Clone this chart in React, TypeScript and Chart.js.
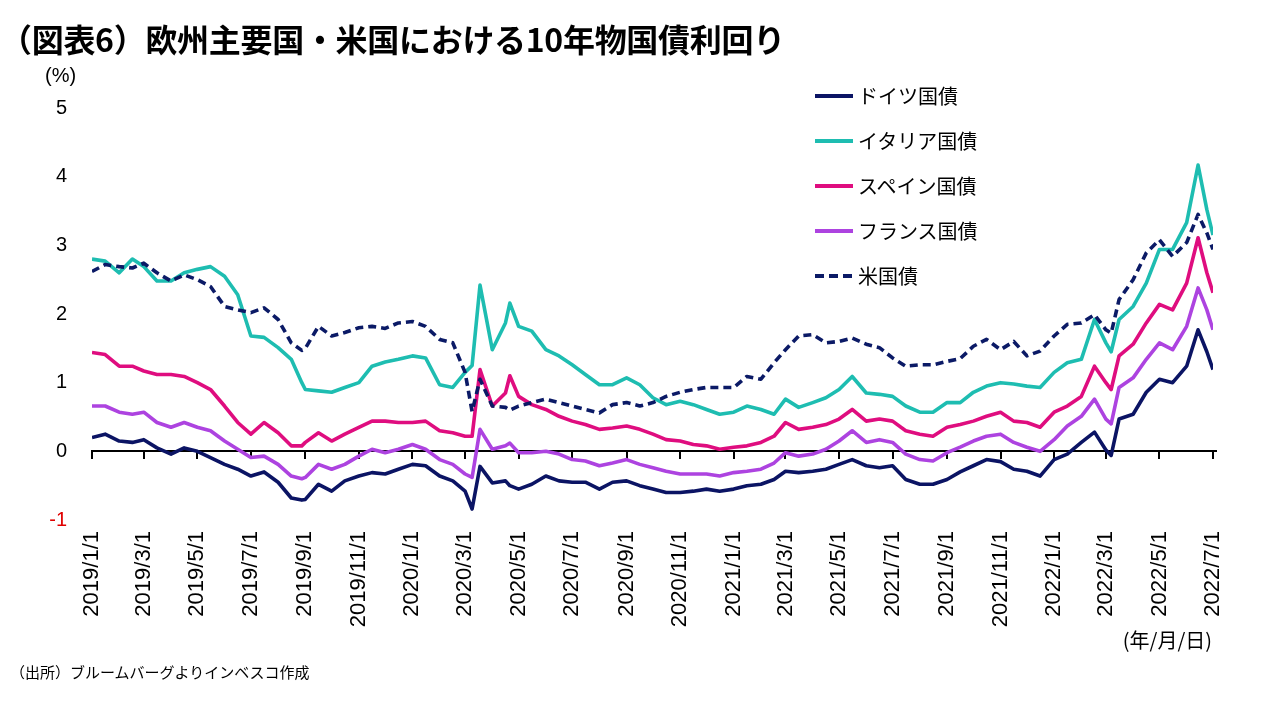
import React, { useEffect, useRef } from 'react';
import { Chart, registerables } from 'chart.js';

Chart.register(...registerables);

// ---- data ----
const dates = [
  '2019-01-01', '2019-01-16', '2019-02-01', '2019-02-16', '2019-03-01', '2019-03-16',
  '2019-04-01', '2019-04-16', '2019-05-01', '2019-05-16', '2019-06-01', '2019-06-16',
  '2019-07-01', '2019-07-16', '2019-08-01', '2019-08-16', '2019-08-28', '2019-09-01',
  '2019-09-16', '2019-10-01', '2019-10-16', '2019-11-01', '2019-11-16', '2019-12-01',
  '2019-12-16', '2020-01-01', '2020-01-16', '2020-02-01', '2020-02-16', '2020-03-01',
  '2020-03-09', '2020-03-18', '2020-04-01', '2020-04-16', '2020-04-21', '2020-05-01',
  '2020-05-16', '2020-06-01', '2020-06-16', '2020-07-01', '2020-07-16', '2020-08-01',
  '2020-08-16', '2020-09-01', '2020-09-16', '2020-10-01', '2020-10-16', '2020-11-01',
  '2020-11-16', '2020-12-01', '2020-12-16', '2021-01-01', '2021-01-16', '2021-02-01',
  '2021-02-16', '2021-03-01', '2021-03-16', '2021-04-01', '2021-04-16', '2021-05-01',
  '2021-05-16', '2021-06-01', '2021-06-16', '2021-07-01', '2021-07-16', '2021-08-01',
  '2021-08-16', '2021-09-01', '2021-09-16', '2021-10-01', '2021-10-16', '2021-11-01',
  '2021-11-16', '2021-12-01', '2021-12-16', '2022-01-01', '2022-01-16', '2022-02-01',
  '2022-02-16', '2022-03-01', '2022-03-07', '2022-03-16', '2022-04-01', '2022-04-16',
  '2022-05-01', '2022-05-16', '2022-06-01', '2022-06-14', '2022-06-24', '2022-07-01',
];

const germany = [
  0.20, 0.25, 0.15, 0.13, 0.17, 0.05, -0.04, 0.05, 0.00, -0.09, -0.19, -0.26,
  -0.36, -0.30, -0.45, -0.68, -0.71, -0.70, -0.48, -0.58, -0.43, -0.36, -0.31, -0.33,
  -0.26, -0.19, -0.21, -0.36, -0.43, -0.58, -0.84, -0.22, -0.46, -0.43, -0.50, -0.55,
  -0.48, -0.36, -0.43, -0.45, -0.45, -0.55, -0.45, -0.43, -0.50, -0.55, -0.60, -0.60,
  -0.58, -0.55, -0.58, -0.55, -0.50, -0.48, -0.41, -0.29, -0.31, -0.29, -0.26, -0.19,
  -0.12, -0.21, -0.24, -0.21, -0.41, -0.48, -0.48, -0.41, -0.30, -0.21, -0.12, -0.15,
  -0.26, -0.29, -0.36, -0.12, -0.04, 0.13, 0.28, 0.02, -0.06, 0.47, 0.54, 0.86,
  1.05, 1.00, 1.24, 1.77, 1.45, 1.19,
];

const italy = [
  2.80, 2.77, 2.60, 2.80, 2.69, 2.48, 2.48, 2.60, 2.65, 2.69, 2.55, 2.28,
  1.68, 1.66, 1.51, 1.34, 1.00, 0.90, 0.88, 0.86, 0.93, 1.00, 1.24, 1.30,
  1.34, 1.39, 1.36, 0.97, 0.93, 1.15, 1.25, 2.42, 1.48, 1.87, 2.16, 1.82,
  1.75, 1.48, 1.39, 1.26, 1.12, 0.97, 0.97, 1.07, 0.97, 0.78, 0.68, 0.73,
  0.68, 0.61, 0.54, 0.57, 0.66, 0.61, 0.54, 0.76, 0.64, 0.71, 0.78, 0.90,
  1.09, 0.85, 0.83, 0.80, 0.66, 0.57, 0.57, 0.71, 0.71, 0.86, 0.95, 1.00,
  0.98, 0.95, 0.93, 1.15, 1.29, 1.34, 1.92, 1.58, 1.45, 1.92, 2.11, 2.45,
  2.94, 2.94, 3.33, 4.17, 3.52, 3.15,
];

const spain = [
  1.44, 1.41, 1.24, 1.24, 1.17, 1.12, 1.12, 1.09, 1.00, 0.90, 0.66, 0.42,
  0.25, 0.42, 0.27, 0.08, 0.08, 0.13, 0.27, 0.15, 0.25, 0.35, 0.44, 0.44,
  0.42, 0.42, 0.44, 0.30, 0.27, 0.22, 0.22, 1.19, 0.66, 0.85, 1.10, 0.80,
  0.68, 0.61, 0.51, 0.44, 0.39, 0.32, 0.34, 0.37, 0.32, 0.25, 0.17, 0.15,
  0.10, 0.08, 0.03, 0.06, 0.08, 0.13, 0.22, 0.42, 0.32, 0.35, 0.39, 0.47,
  0.61, 0.44, 0.47, 0.44, 0.30, 0.25, 0.22, 0.35, 0.39, 0.44, 0.51, 0.57,
  0.44, 0.42, 0.35, 0.57, 0.66, 0.80, 1.24, 1.00, 0.90, 1.39, 1.56, 1.87,
  2.14, 2.06, 2.45, 3.11, 2.60, 2.31,
];

const france = [
  0.66, 0.66, 0.57, 0.54, 0.57, 0.42, 0.35, 0.42, 0.35, 0.30, 0.15, 0.03,
  -0.09, -0.07, -0.19, -0.36, -0.40, -0.38, -0.19, -0.26, -0.19, -0.07, 0.03, -0.02,
  0.03, 0.10, 0.03, -0.12, -0.19, -0.33, -0.38, 0.32, 0.03, 0.08, 0.12, -0.02,
  -0.02, 0.00, -0.04, -0.12, -0.14, -0.21, -0.17, -0.12, -0.19, -0.24, -0.29, -0.33,
  -0.33, -0.33, -0.36, -0.31, -0.29, -0.26, -0.17, -0.02, -0.07, -0.04, 0.03, 0.15,
  0.30, 0.13, 0.17, 0.13, -0.04, -0.12, -0.14, -0.02, 0.06, 0.15, 0.22, 0.25,
  0.13, 0.06, 0.00, 0.17, 0.37, 0.51, 0.76, 0.47, 0.40, 0.93, 1.07, 1.34,
  1.58, 1.48, 1.82, 2.38, 2.06, 1.77,
];

const usa = [
  2.62, 2.72, 2.69, 2.67, 2.74, 2.60, 2.48, 2.57, 2.50, 2.40, 2.11, 2.06,
  2.02, 2.09, 1.92, 1.58, 1.47, 1.50, 1.82, 1.68, 1.73, 1.80, 1.82, 1.79,
  1.87, 1.89, 1.82, 1.63, 1.58, 1.15, 0.58, 1.05, 0.66, 0.64, 0.60, 0.66,
  0.71, 0.76, 0.71, 0.66, 0.61, 0.56, 0.68, 0.71, 0.66, 0.71, 0.80, 0.86,
  0.90, 0.93, 0.93, 0.93, 1.09, 1.05, 1.29, 1.48, 1.68, 1.70, 1.58, 1.60,
  1.65, 1.56, 1.51, 1.36, 1.24, 1.26, 1.26, 1.31, 1.35, 1.53, 1.63, 1.48,
  1.60, 1.39, 1.46, 1.68, 1.85, 1.87, 1.99, 1.77, 1.72, 2.21, 2.50, 2.89,
  3.08, 2.84, 3.04, 3.45, 3.18, 2.94,
];

const xTickLabels = [
  '2019/1/1', '2019/3/1', '2019/5/1', '2019/7/1', '2019/9/1', '2019/11/1',
  '2020/1/1', '2020/3/1', '2020/5/1', '2020/7/1', '2020/9/1', '2020/11/1',
  '2021/1/1', '2021/3/1', '2021/5/1', '2021/7/1', '2021/9/1', '2021/11/1',
  '2022/1/1', '2022/3/1', '2022/5/1', '2022/7/1',
];

const yTicks = [-1, 0, 1, 2, 3, 4, 5];

const seriesNames = ['ドイツ国債', 'イタリア国債', 'スペイン国債', 'フランス国債', '米国債'];
const seriesColors = ['#0b1464', '#1ebdb1', '#df0d7f', '#ad43e0', '#0b1a66'];

const TITLE = '（図表6）欧州主要国・米国における10年物国債利回り';
const SOURCE = '（出所）ブルームバーグよりインベスコ作成';

// ---- helpers ----
const dayOf = (y: number, m: number, d: number) => Date.UTC(y, m - 1, d) / 86400000;
const dayFromIso = (s: string) => {
  const [y, m, d] = s.split('-').map(Number);
  return dayOf(y, m, d);
};
const dayFromLabel = (s: string) => {
  const [y, m, d] = s.split('/').map(Number);
  return dayOf(y, m, d);
};
const tickLabelByDay = new Map<number, string>(xTickLabels.map((l) => [dayFromLabel(l), l]));

const zeroAxisPlugin = {
  id: 'zeroAxis',
  beforeDatasetsDraw(chart: any) {
    const { ctx, chartArea, scales } = chart;
    const x = scales.x;
    const y = scales.y;
    const y0 = Math.round(y.getPixelForValue(0));
    ctx.save();
    ctx.strokeStyle = '#000';
    ctx.lineWidth = 2;
    ctx.beginPath();
    ctx.moveTo(chartArea.left - 1, y0);
    ctx.lineTo(chartArea.right + 4, y0);
    for (const t of x.ticks) {
      const px = Math.round(x.getPixelForValue(t.value));
      ctx.moveTo(px, y0);
      ctx.lineTo(px, y0 + 8);
    }
    ctx.stroke();
    ctx.restore();
  },
};

export default function App() {
  const canvasRef = useRef<HTMLCanvasElement | null>(null);

  useEffect(() => {
    if (!canvasRef.current) return;
    const seriesValues = [germany, italy, spain, france, usa];
    const xs = dates.map(dayFromIso);
    const datasets = seriesValues.map((vals, i) => ({
      label: seriesNames[i],
      data: vals.map((v, k) => ({ x: xs[k], y: v })),
      borderColor: seriesColors[i],
      backgroundColor: seriesColors[i],
      borderWidth: i === 4 ? 3.6 : 3.6,
      borderDash: i === 4 ? [8, 5] : [],
      borderCapStyle: 'butt' as const,
      borderJoinStyle: 'round' as const,
      pointRadius: 0,
      tension: 0,
      fill: false,
      order: 5 - i,
    }));

    const chart = new Chart(canvasRef.current, {
      type: 'line',
      data: { datasets },
      plugins: [zeroAxisPlugin],
      options: {
        animation: false,
        responsive: false,
        layout: { padding: { left: 0, top: 108, right: 67, bottom: 80 } },
        plugins: {
          legend: { display: false },
          tooltip: { enabled: false },
          title: { display: false },
        },
        scales: {
          x: {
            type: 'linear',
            min: dayFromLabel(xTickLabels[0]),
            max: dayFromLabel(xTickLabels[xTickLabels.length - 1]),
            grid: { display: false, drawTicks: false },
            border: { display: false },
            afterBuildTicks: (scale: any) => {
              scale.ticks = xTickLabels.map((l) => ({ value: dayFromLabel(l) }));
            },
            afterFit: (scale: any) => {
              scale.height = 120;
            },
            ticks: {
              autoSkip: false,
              minRotation: 90,
              maxRotation: 90,
              padding: 11,
              color: '#000',
              font: { family: '"Liberation Sans", Arial, sans-serif', size: 22 },
              callback: (value: any) => tickLabelByDay.get(Number(value)) ?? '',
            },
          },
          y: {
            type: 'linear',
            min: yTicks[0],
            max: yTicks[yTicks.length - 1],
            grid: { display: false, drawTicks: false },
            border: { display: false },
            afterBuildTicks: (scale: any) => {
              scale.ticks = yTicks.map((v) => ({ value: v }));
            },
            afterFit: (scale: any) => {
              scale.width = 92;
            },
            ticks: {
              padding: 25,
              color: (ctx: any) => (ctx.tick && ctx.tick.value < 0 ? '#e00000' : '#000'),
              font: { family: '"Liberation Sans", Arial, sans-serif', size: 20 },
              callback: (value: any) => String(value),
            },
          },
        },
      },
    });
    return () => chart.destroy();
  }, []);

  const jp = '"Noto Sans CJK JP", "Noto Sans", sans-serif';

  return (
    <div
      style={{
        position: 'fixed',
        left: 0,
        top: 0,
        width: 1280,
        height: 720,
        background: '#fff',
        overflow: 'hidden',
      }}
    >
      <canvas
        ref={canvasRef}
        width={1280}
        height={720}
        style={{ position: 'absolute', left: 0, top: 0, width: 1280, height: 720 }}
      />
      <div
        style={{
          position: 'absolute',
          left: 0,
          top: 18,
          fontFamily: jp,
          fontWeight: 700,
          fontSize: 32,
          lineHeight: '40px',
          color: '#000',
          whiteSpace: 'nowrap',
          letterSpacing: -0.3,
        }}
      >
        {TITLE}
      </div>
      <div
        style={{
          position: 'absolute',
          left: 45,
          top: 63,
          fontFamily: '"Liberation Sans", Arial, sans-serif',
          fontSize: 20,
          lineHeight: '24px',
          color: '#000',
        }}
      >
        (%)
      </div>
      <div
        style={{
          position: 'absolute',
          right: 68,
          top: 627,
          fontFamily: jp,
          fontSize: 20,
          lineHeight: '26px',
          color: '#000',
          whiteSpace: 'nowrap',
        }}
      >
        (年/月/日)
      </div>
      <div
        style={{
          position: 'absolute',
          left: 10,
          top: 662,
          fontFamily: jp,
          fontSize: 15,
          lineHeight: '20px',
          color: '#000',
          whiteSpace: 'nowrap',
        }}
      >
        {SOURCE}
      </div>
      {seriesNames.map((name, i) => (
        <div
          key={name}
          style={{
            position: 'absolute',
            left: 815,
            top: 96 + i * 45 - 14,
            height: 28,
            display: 'flex',
            alignItems: 'center',
            whiteSpace: 'nowrap',
          }}
        >
          <div
            style={{
              width: 38,
              height: 4,
              marginRight: 5,
              background:
                i === 4
                  ? `repeating-linear-gradient(to right, ${seriesColors[i]} 0px, ${seriesColors[i]} 9px, transparent 9px, transparent 14px)`
                  : seriesColors[i],
            }}
          />
          <span style={{ fontFamily: jp, fontSize: 20, lineHeight: '28px', color: '#000' }}>
            {name}
          </span>
        </div>
      ))}
    </div>
  );
}
